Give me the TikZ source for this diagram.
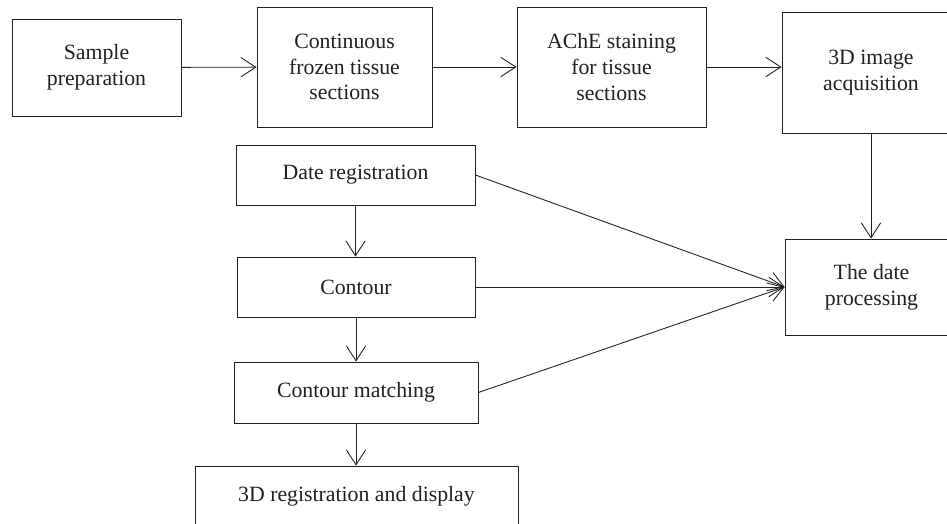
\documentclass[tikz,border=0pt]{standalone}
\usepackage{fontspec}
\setmainfont{Liberation Serif}
\usetikzlibrary{arrows.meta}
\definecolor{ink}{RGB}{35,31,32}

\begin{document}
\begin{tikzpicture}[x=0.02cm,y=-0.02cm,
    box/.style={draw=ink,line width=0.5pt,text=ink,align=center,inner sep=0pt,
      font=\fontsize{12.4}{14.7}\selectfont},
    flow/.style={draw=ink,line width=0.5pt,-{Straight Barb[length=8.5pt,width=11pt]}}]
    \useasboundingbox (0,0) rectangle (947,524);
    \clip (0,0) rectangle (947,524);

    \node[box,minimum width=3.38cm,minimum height=1.94cm] (sample) at (96.5,67.5) {Sample\\preparation};
    \node[box,minimum width=3.5cm,minimum height=2.4cm] (frozen) at (344.5,67) {Continuous\\frozen tissue\\sections};
    \node[box,minimum width=3.78cm,minimum height=2.4cm] (ache) at (611.5,67) {AChE staining\\for tissue\\sections};
    \node[box,minimum width=3.56cm,minimum height=2.42cm] (acquire) at (871,72.5) {3D image\\acquisition};
    \node[box,minimum width=3.46cm,minimum height=1.92cm] (process) at (871.5,287) {The date\\processing};

    \node[box,minimum width=4.78cm,minimum height=1.2cm] (datereg) at (355.5,175) {Date registration};
    \node[box,minimum width=4.76cm,minimum height=1.2cm] (contour) at (356,287) {Contour};
    \node[box,minimum width=4.88cm,minimum height=1.22cm] (match) at (356,392.5) {Contour matching};
    \node[box,minimum width=6.46cm,minimum height=1.2cm] (display) at (356.5,496) {3D registration and display};

    \draw[flow] (sample) -- (frozen);
    \draw[flow] (frozen) -- (ache);
    \draw[flow] (ache.east) -- (acquire.west |- ache.east);
    \draw[flow] (acquire.south) -- (acquire.south |- process.north);

    \draw[flow] (datereg.south) -- (datereg.south |- contour.north);
    \draw[flow] (contour.south) -- (contour.south |- match.north);
    \draw[flow] (match.south) -- (match.south |- display.north);

    \draw[flow] (datereg.east) -- (process.west);
    \draw[flow] (contour.east) -- (process.west);
    \draw[flow] (match.east) -- (process.west);
\end{tikzpicture}
\end{document}
